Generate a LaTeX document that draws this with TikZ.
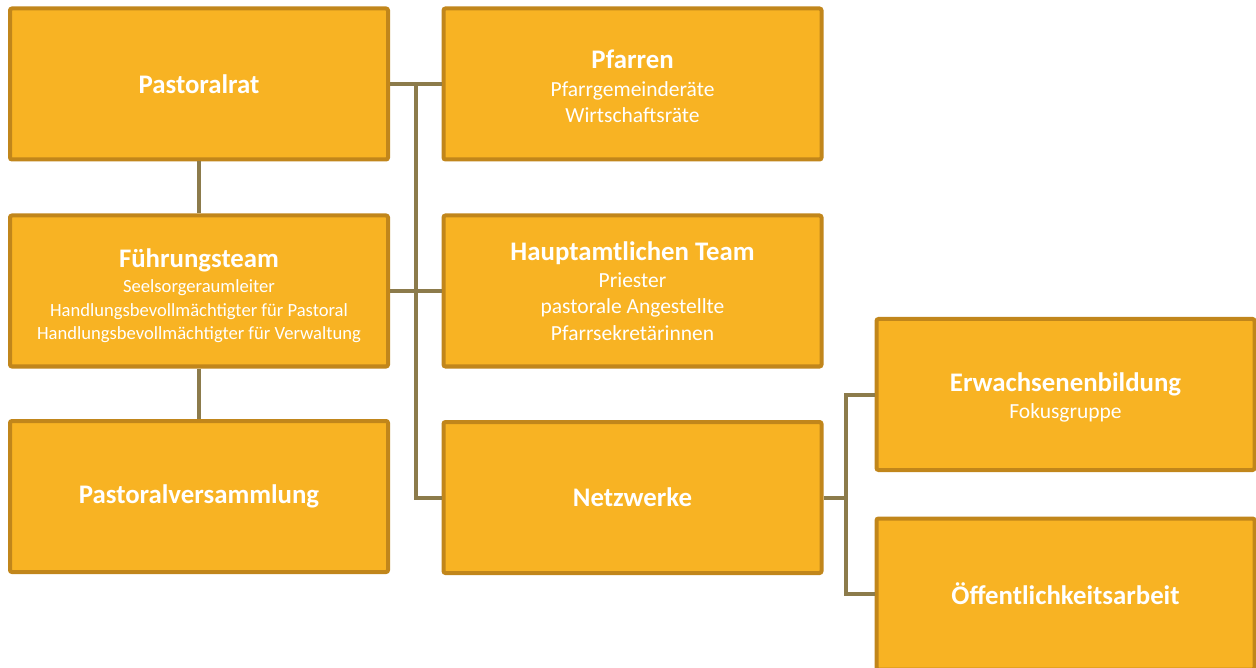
\documentclass[tikz,border=0pt]{standalone}
\usepackage{fontspec}
\setmainfont{Carlito}
\usepackage{xcolor}
\usepackage{tikz}

\definecolor{boxfill}{HTML}{F8B323}
\definecolor{boxline}{HTML}{C1861B}
\definecolor{linkcol}{HTML}{8C7B4B}

\newcommand{\boxtitle}[1]{{\fontsize{26.8}{28}\selectfont\bfseries #1}}

\tikzset{
  orgbox/.style={draw=boxline, fill=boxfill, line width=4pt, rounded corners=2pt,
    minimum width=378pt, minimum height=151pt, inner sep=0pt,
    text=white, align=center, font=\fontsize{21.5}{26.5}\selectfont},
  smalltext/.style={font=\fontsize{18.6}{23.3}\selectfont},
  link/.style={draw=linkcol, line width=4pt}
}

\begin{document}
\begin{tikzpicture}[x=1pt,y=-1pt]
  \useasboundingbox (0,0) rectangle (1256,668);
  % left column
  \node[orgbox] (rat) at (199,84) {\boxtitle{Pastoralrat}};
  \node[orgbox, smalltext] (fuehrung) at (199,291) {\rule{0pt}{28pt}\boxtitle{Führungsteam}\\[2pt]
    Seelsorgeraumleiter\\Handlungsbevollmächtigter für Pastoral\\Handlungsbevollmächtigter für Verwaltung};
  \node[orgbox] (versammlung) at (199,496.5) {\boxtitle{Pastoralversammlung}};
  % middle column
  \node[orgbox] (pfarren) at (632.5,84) {\rule{0pt}{24pt}\boxtitle{Pfarren}\\[1pt]Pfarrgemeinderäte\\Wirtschaftsräte};
  \node[orgbox] (haupt) at (632.5,291) {\boxtitle{Hauptamtlichen Team}\\
    Priester\\pastorale Angestellte\\Pfarrsekretärinnen};
  \node[orgbox] (netz) at (632.5,497.5) {\boxtitle{Netzwerke}};
  % right column
  \node[orgbox] (erwachsen) at (1065.5,394.5) {\rule{0pt}{25pt}\boxtitle{Erwachsenenbildung}\\[1pt]Fokusgruppe};
  \node[orgbox] (oeffentlich) at (1065.5,594) {\boxtitle{Öffentlichkeitsarbeit}};

  \coordinate (spine) at (416,84);
  \coordinate (fork) at (846,497.5);

  \draw[link] (rat.south) -- (fuehrung.north);
  \draw[link] (fuehrung.south) -- (versammlung.north);
  \draw[link] (rat.east) -- (pfarren.west);
  \draw[link] (spine) |- (netz.west);
  \draw[link] (fuehrung.east) -- (haupt.west);
  \draw[link] (netz.east) -- (fork);
  \draw[link] (erwachsen.west) -| (fork) |- (oeffentlich.west);
\end{tikzpicture}
\end{document}
